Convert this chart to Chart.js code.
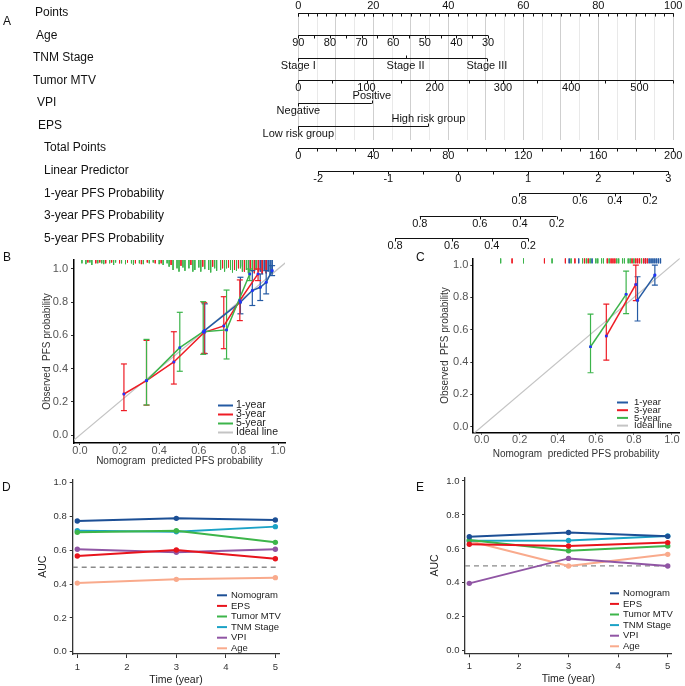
<!DOCTYPE html>
<html>
<head>
<meta charset="utf-8">
<title>Nomogram, calibration and time-dependent AUC</title>
<script src="https://cdn.jsdelivr.net/npm/chart.js@4.4.1/dist/chart.umd.min.js"></script>
<style>
  html, body { margin: 0; padding: 0; background: #fff; }
  #fig { position: relative; width: 685px; height: 686px; overflow: hidden; font-family: "Liberation Sans", Arial, sans-serif; }
  #fig canvas { position: absolute; }
  .tag { position: absolute; font-size: 12px; line-height: 12px; color: #111; }
</style>
</head>
<body>
<div id="fig">
  <canvas id="nomo" width="685" height="250" style="left:0;top:0"></canvas>
  <canvas id="calB" width="300" height="217" style="left:0;top:250px"></canvas>
  <canvas id="calC" width="340" height="210" style="left:345px;top:250px"></canvas>
  <canvas id="aucD" width="300" height="216" style="left:0;top:470px"></canvas>
  <canvas id="aucE" width="340" height="215" style="left:345px;top:470px"></canvas>
  <div class="tag" style="left:3px;top:15px">A</div>
  <div class="tag" style="left:3px;top:251px">B</div>
  <div class="tag" style="left:416px;top:251px">C</div>
  <div class="tag" style="left:2px;top:481px">D</div>
  <div class="tag" style="left:416px;top:481px">E</div>
</div>
<script>
const FONT = '"Liberation Sans", Arial, Helvetica, sans-serif';
Chart.defaults.font.family = FONT;
Chart.defaults.color = '#333';

// ---- A: nomogram rows (in Points units 0-100) ----
const rowNames = ['Points', 'Age', 'TNM Stage', 'Tumor MTV', 'VPI', 'EPS', 'Total Points',
  'Linear Predictor', '1-year PFS Probability', '3-year PFS Probability', '5-year PFS Probability'];
const pointsTicks = [0, 20, 40, 60, 80, 100];
const ageTicks = [90, 80, 70, 60, 50, 40, 30];
const agePoints = [0, 8.43, 16.87, 25.3, 33.73, 42.17, 50.6];
const stageLabels = ['Stage I', 'Stage II', 'Stage III'];
const stagePoints = [0, 28.6, 50.3];
const mtvTicks = [0, 100, 200, 300, 400, 500];
const mtvPoints = [0, 18.2, 36.4, 54.6, 72.8, 91.0];
const mtvEndPoints = 100;
const vpiLabels = ['Negative', 'Positive'];
const vpiPoints = [0, 19.6];
const epsLabels = ['Low risk group', 'High risk group'];
const epsPoints = [0, 34.7];
const totalTicks = [0, 40, 80, 120, 160, 200];
const totalPoints = [0, 20, 40, 60, 80, 100];
const lpTicks = [-2, -1, 0, 1, 2, 3];
const lpPoints = [5.3, 24.0, 42.7, 61.3, 80.0, 98.7];
const pfsTicks = [0.8, 0.6, 0.4, 0.2];
const pfs1Points = [58.9, 75.1, 84.4, 93.8];
const pfs3Points = [32.4, 48.4, 59.1, 68.9];
const pfs5Points = [25.8, 40.9, 51.6, 61.3];

// ---- B: calibration, training set ----
const b1x = [0.63, 0.81, 0.87, 0.91, 0.94, 0.97];
const b1y = [0.63, 0.80, 0.87, 0.89, 0.92, 0.99];
const b1lo = [0.49, 0.73, 0.78, 0.81, 0.85, 0.96];
const b1hi = [0.79, 0.95, 0.99, 0.97, 0.99, 1.02];
const b3x = [0.222, 0.336, 0.474, 0.627, 0.726, 0.807, 0.899];
const b3y = [0.247, 0.327, 0.44, 0.618, 0.657, 0.81, 0.97];
const b3lo = [0.147, 0.18, 0.307, 0.492, 0.52, 0.689, 0.93];
const b3hi = [0.428, 0.57, 0.622, 0.797, 0.833, 0.934, 1.0];
const b5x = [0.336, 0.504, 0.622, 0.74, 0.857];
const b5y = [0.327, 0.526, 0.622, 0.633, 0.97];
const b5lo = [0.181, 0.384, 0.486, 0.458, 0.93];
const b5hi = [0.576, 0.739, 0.803, 0.873, 1.0];
const rugBGreenX = [0.01, 0.03, 0.05, 0.06, 0.09, 0.11, 0.12, 0.15, 0.17, 0.18, 0.21, 0.23, 0.26, 0.27, 0.30,
  0.32, 0.35, 0.37, 0.40, 0.42, 0.44, 0.45, 0.47, 0.49, 0.50, 0.52, 0.53, 0.55, 0.57, 0.58, 0.60, 0.61, 0.63,
  0.65, 0.66, 0.68, 0.69, 0.71, 0.73, 0.74, 0.76, 0.77, 0.79, 0.81, 0.82, 0.84, 0.85, 0.87, 0.89];
const rugBGreenLen = [0.02, 0.025, 0.015, 0.03, 0.02, 0.02, 0.025, 0.02, 0.03, 0.015, 0.02, 0.025, 0.02, 0.03, 0.02,
  0.025, 0.02, 0.015, 0.025, 0.03, 0.02, 0.04, 0.06, 0.05, 0.07, 0.045, 0.065, 0.05, 0.07, 0.06, 0.045, 0.07, 0.055,
  0.06, 0.075, 0.05, 0.065, 0.06, 0.07, 0.05, 0.06, 0.075, 0.065, 0.05, 0.07, 0.06, 0.08, 0.07, 0.06];
const rugBRedX = [0.04, 0.08, 0.10, 0.13, 0.16, 0.20, 0.24, 0.28, 0.31, 0.34, 0.38, 0.41, 0.46, 0.51, 0.56,
  0.62, 0.67, 0.72, 0.75, 0.78, 0.80, 0.83, 0.86, 0.88, 0.90, 0.92, 0.94];
const rugBRedLen = [0.015, 0.02, 0.015, 0.02, 0.015, 0.02, 0.015, 0.02, 0.025, 0.015, 0.02, 0.02, 0.03, 0.035, 0.03,
  0.04, 0.04, 0.05, 0.045, 0.06, 0.05, 0.07, 0.06, 0.08, 0.07, 0.085, 0.08];
const rugBBlueX = [0.82, 0.86, 0.89, 0.91, 0.92, 0.93, 0.94, 0.95, 0.96, 0.97];
const rugBBlueLen = [0.04, 0.05, 0.06, 0.07, 0.08, 0.06, 0.08, 0.07, 0.09, 0.08];

// ---- C: calibration, validation set ----
const c1x = [0.819, 0.91];
const c1y = [0.783, 0.938];
const c1lo = [0.654, 0.876];
const c1hi = [0.928, 1.0];
const c3x = [0.655, 0.81];
const c3y = [0.561, 0.88];
const c3lo = [0.412, 0.78];
const c3hi = [0.759, 1.0];
const c5x = [0.572, 0.759];
const c5y = [0.495, 0.819];
const c5lo = [0.334, 0.70];
const c5hi = [0.697, 0.963];
const rugCGreenX = [0.10, 0.22, 0.37, 0.47, 0.53, 0.55, 0.57, 0.60, 0.61, 0.63, 0.64, 0.67, 0.71, 0.72, 0.74, 0.75, 0.77, 0.78, 0.80, 0.84];
const rugCRedX = [0.16, 0.33, 0.44, 0.49, 0.54, 0.56, 0.66, 0.68, 0.69, 0.70, 0.79, 0.81, 0.82, 0.83, 0.85, 0.86, 0.87];
const rugCBlueX = [0.46, 0.51, 0.58, 0.86, 0.88, 0.89, 0.90, 0.91, 0.92, 0.93, 0.94];
const rugCLen = 0.031;

const probTicks = [0, 0.2, 0.4, 0.6, 0.8, 1.0];
const idealLine = [-0.2, 1.2];

// ---- D / E: time-dependent AUC ----
const years = [1, 3, 5];
const aucNames = ['Nomogram', 'EPS', 'Tumor MTV', 'TNM Stage', 'VPI', 'Age'];
const nomoD = [0.773, 0.789, 0.779];
const epsD = [0.566, 0.602, 0.550];
const mtvD = [0.706, 0.716, 0.647];
const tnmD = [0.716, 0.710, 0.740];
const vpiD = [0.606, 0.588, 0.606];
const ageD = [0.406, 0.428, 0.438];
const nomoE = [0.672, 0.697, 0.674];
const epsE = [0.627, 0.617, 0.637];
const mtvE = [0.652, 0.589, 0.617];
const tnmE = [0.648, 0.650, 0.676];
const vpiE = [0.397, 0.544, 0.499];
const ageE = [0.646, 0.499, 0.568];
const aucTicks = [0, 0.2, 0.4, 0.6, 0.8, 1.0];
const chanceLevel = 0.5;

// colours
const BLUE1 = '#245aa3', RED3 = '#ee1c25', GREEN5 = '#3cb44b', IDEAL = '#c4c4c4', MARK = '#2233ff';
const aucColors = ['#1c4f95', '#e8141c', '#3db54a', '#1ba2c6', '#9055a4', '#f9aa8c'];

// small legend drawn inside a chart
function makeKey(items, o) {
  return {
    id: 'key',
    afterDraw(chart) {
      const ctx = chart.ctx;
      ctx.save();
      ctx.font = o.size + 'px ' + FONT;
      ctx.textBaseline = 'middle';
      ctx.textAlign = 'left';
      items.forEach((it, i) => {
        const yy = o.y + i * o.dy;
        ctx.strokeStyle = it.color;
        ctx.lineWidth = 2;
        ctx.beginPath();
        ctx.moveTo(o.x, yy);
        ctx.lineTo(o.x + o.len, yy);
        ctx.stroke();
        ctx.fillStyle = '#222';
        ctx.fillText(it.label, o.x + o.len + o.gap, yy);
      });
      ctx.restore();
    }
  };
}

// ---------- A ----------
const mid = a => a.slice(1).map((v, i) => (v + a[i]) / 2);
const steps = (a, b, s) => { const out = []; for (let v = a; v <= b + 1e-9; v += s) out.push(v); return out; };
const rowNameX = [35, 36, 33, 33, 37, 38, 44, 44, 44, 44, 44];
const nomoRows = [
  { at: pointsTicks, text: pointsTicks, minor: steps(0, 100, 2.5), side: 'above' },
  { at: agePoints, text: ageTicks, minor: mid(agePoints) },
  { at: stagePoints, text: stageLabels, minor: [], cat: true },
  { at: mtvPoints, text: mtvTicks, minor: mid(mtvPoints).concat([mtvEndPoints]) },
  { at: vpiPoints, text: vpiLabels, minor: [], cat: true, side: ['below', 'above'] },
  { at: epsPoints, text: epsLabels, minor: [], cat: true, side: ['below', 'above'] },
  { at: totalPoints, text: totalTicks, minor: steps(0, 100, 5) },
  { at: lpPoints, text: lpTicks, minor: mid(lpPoints) },
  { at: pfs1Points, text: pfsTicks, minor: [] },
  { at: pfs3Points, text: pfsTicks, minor: [] },
  { at: pfs5Points, text: pfsTicks, minor: [] }
];

const nomogramPlugin = {
  id: 'nomogram',
  afterDraw(chart) {
    const { ctx, scales: { x, y } } = chart;
    ctx.save();
    ctx.fillStyle = '#111';
    ctx.strokeStyle = '#111';
    ctx.lineWidth = 1;
    ctx.textBaseline = 'middle';
    ctx.textAlign = 'left';
    ctx.font = '12px ' + FONT;
    rowNames.forEach((name, i) => ctx.fillText(name, rowNameX[i], y.getPixelForValue(i)));

    ctx.font = '11px ' + FONT;
    ctx.textAlign = 'center';
    nomoRows.forEach((row, i) => {
      const yy = Math.round(y.getPixelForValue(i)) + 0.5;
      const all = row.at.concat(row.minor);
      ctx.beginPath();
      ctx.moveTo(x.getPixelForValue(Math.min(...all)), yy);
      ctx.lineTo(x.getPixelForValue(Math.max(...all)), yy);
      row.minor.forEach(v => {
        const xx = Math.round(x.getPixelForValue(v)) + 0.5;
        ctx.moveTo(xx, yy); ctx.lineTo(xx, yy + 3);
      });
      row.at.forEach((v, j) => {
        const side = Array.isArray(row.side) ? row.side[j] : (row.side || 'below');
        const up = row.cat && (side === 'above' || j === 1);
        const xx = Math.round(x.getPixelForValue(v)) + 0.5;
        ctx.moveTo(xx, yy); ctx.lineTo(xx, up ? yy - 3 : yy + 3);
      });
      ctx.stroke();
      row.text.forEach((t, j) => {
        const side = Array.isArray(row.side) ? row.side[j] : (row.side || 'below');
        ctx.fillText(String(t), x.getPixelForValue(row.at[j]), side === 'above' ? yy - 7.5 : yy + 7.5);
      });
    });
    ctx.restore();
  }
};

new Chart(document.getElementById('nomo'), {
  type: 'scatter',
  data: { datasets: [] },
  options: {
    responsive: false, animation: false, devicePixelRatio: 1,
    layout: { padding: { left: 298.3, right: 11.7, top: 12.7, bottom: 110 } },
    plugins: { legend: { display: false }, tooltip: { enabled: false } },
    scales: {
      x: {
        type: 'linear', position: 'top', min: 0, max: 100,
        ticks: { display: false, stepSize: 5 },
        grid: { drawTicks: false, lineWidth: 1, color: c => (c.tick && c.tick.value % 10 === 0) ? '#cfcfcf' : '#e9e9e9' },
        border: { display: false },
        afterFit: s => { s.height = 0; }
      },
      y: { type: 'linear', display: false, min: 0, max: 5.64, reverse: true }
    }
  },
  plugins: [nomogramPlugin]
});

// ---------- B and C ----------
function calibrationChart(id, series, rugs, lay, key) {
  const datasets = [{
    data: idealLine.map(v => ({ x: v, y: v })),
    borderColor: IDEAL, borderWidth: 1.2, pointRadius: 0, order: 10
  }];
  rugs.forEach(r => {
    const pts = [];
    r.x.forEach((v, i) => {
      const len = Array.isArray(r.len) ? r.len[i] : r.len;
      pts.push({ x: v, y: lay.ymax }, { x: v, y: lay.ymax - len }, { x: v, y: null });
    });
    datasets.push({ data: pts, borderColor: r.color, borderWidth: 1, pointRadius: 0, order: 9 });
  });
  series.forEach(s => {
    const bars = [];
    s.x.forEach((v, i) => bars.push({ x: v, y: s.lo[i] }, { x: v, y: s.hi[i] }, { x: v, y: null }));
    datasets.push({
      data: bars, borderColor: s.color, backgroundColor: s.color, borderWidth: 1.2,
      pointStyle: 'line', pointRadius: 3, pointBorderWidth: 1.2, order: 5
    });
    datasets.push({
      data: s.x.map((v, i) => ({ x: v, y: s.y[i] })),
      borderColor: s.color, backgroundColor: s.color, borderWidth: 1.5,
      pointRadius: 1.5, pointBorderWidth: 0, order: 4
    });
    datasets.push({
      data: s.x.map((v, i) => ({ x: v, y: s.y[i] })), showLine: false,
      pointStyle: 'rect', pointRadius: 1.8, pointBorderWidth: 0, backgroundColor: MARK, order: 1
    });
  });

  return new Chart(document.getElementById(id), {
    type: 'line',
    data: { datasets },
    options: {
      responsive: false, animation: false, devicePixelRatio: 1,
      layout: { padding: lay.pad },
      elements: { line: { tension: 0 } },
      plugins: { legend: { display: false }, tooltip: { enabled: false } },
      scales: {
        x: {
          type: 'linear', min: lay.xmin, max: lay.xmax,
          afterBuildTicks: sc => { sc.ticks = probTicks.map(v => ({ value: v })); },
          ticks: { callback: v => v.toFixed(1), font: { size: 11, lineHeight: 1 }, color: '#555', padding: 0, autoSkip: false, maxRotation: 0 },
          grid: { drawOnChartArea: false, tickLength: 2, tickColor: '#333' },
          border: { color: '#000', width: 1.5 },
          title: { display: true, text: 'Nomogram  predicted PFS probability', font: { size: 10 }, color: '#333', padding: 0 },
          afterFit: sc => { sc.height = lay.xh; }
        },
        y: {
          type: 'linear', min: lay.ymin, max: lay.ymax,
          afterBuildTicks: sc => { sc.ticks = probTicks.map(v => ({ value: v })); },
          ticks: { callback: v => v.toFixed(1), font: { size: 11, lineHeight: 1 }, color: '#555', padding: lay.tp, autoSkip: false },
          grid: { drawOnChartArea: false, tickLength: lay.tl, tickColor: '#333' },
          border: { color: '#000', width: 1.5 },
          title: { display: true, text: 'Observed  PFS probability', font: { size: 10 }, color: '#333', padding: 0 },
          afterFit: sc => { sc.width = lay.yw; }
        }
      }
    },
    plugins: [makeKey(key.items, key)]
  });
}

const calItems = [
  { label: '1-year', color: BLUE1 }, { label: '3-year', color: RED3 },
  { label: '5-year', color: GREEN5 }, { label: 'Ideal line', color: IDEAL }
];

calibrationChart('calB',
  [
    { color: GREEN5, x: b5x, y: b5y, lo: b5lo, hi: b5hi },
    { color: RED3, x: b3x, y: b3y, lo: b3lo, hi: b3hi },
    { color: BLUE1, x: b1x, y: b1y, lo: b1lo, hi: b1hi }
  ],
  [
    { color: GREEN5, x: rugBGreenX, len: rugBGreenLen },
    { color: RED3, x: rugBRedX, len: rugBRedLen },
    { color: BLUE1, x: rugBBlueX, len: rugBBlueLen }
  ],
  { pad: { left: 41, top: 10, right: 15, bottom: 0 }, yw: 33, xh: 24, tl: 3, tp: 3,
    xmin: -0.03, xmax: 1.035, ymin: -0.048, ymax: 1.054 },
  { items: calItems, x: 218, y: 155.5, dy: 9, len: 15, gap: 3, size: 10.5 }
);

calibrationChart('calC',
  [
    { color: GREEN5, x: c5x, y: c5y, lo: c5lo, hi: c5hi },
    { color: RED3, x: c3x, y: c3y, lo: c3lo, hi: c3hi },
    { color: BLUE1, x: c1x, y: c1y, lo: c1lo, hi: c1hi }
  ],
  [
    { color: GREEN5, x: rugCGreenX, len: rugCLen },
    { color: RED3, x: rugCRedX, len: rugCLen },
    { color: BLUE1, x: rugCBlueX, len: rugCLen }
  ],
  { pad: { left: 94, top: 8.3, right: 2, bottom: 0 }, yw: 33.3, xh: 27.3, tl: 2, tp: 2,
    xmin: -0.049, xmax: 1.041, ymin: -0.037, ymax: 1.042 },
  { items: calItems, x: 272, y: 152.5, dy: 7.7, len: 11, gap: 6, size: 9.5 }
);

// ---------- D and E ----------
function aucChart(id, series, lay, key) {
  const datasets = [{
    data: [lay.xmin, lay.xmax].map(v => ({ x: v, y: chanceLevel })),
    borderColor: '#8a8a8a', borderWidth: 1.4, borderDash: [5, 4], pointRadius: 0, order: 10
  }];
  series.forEach((vals, k) => {
    datasets.push({
      data: years.map((t, i) => ({ x: t, y: vals[i] })),
      borderColor: aucColors[k], backgroundColor: aucColors[k], borderWidth: 2,
      pointRadius: 2.7, pointBorderWidth: 0, order: 1 + k
    });
  });
  return new Chart(document.getElementById(id), {
    type: 'line',
    data: { datasets },
    options: {
      responsive: false, animation: false, devicePixelRatio: 1,
      layout: { padding: lay.pad },
      elements: { line: { tension: 0 } },
      plugins: { legend: { display: false }, tooltip: { enabled: false } },
      scales: {
        x: {
          type: 'linear', min: lay.xmin, max: lay.xmax,
          afterBuildTicks: sc => { sc.ticks = [1, 2, 3, 4, 5].map(v => ({ value: v })); },
          ticks: { font: { size: 9.5, lineHeight: 1 }, color: '#333', padding: 4.5, autoSkip: false, maxRotation: 0 },
          grid: { drawOnChartArea: false, tickLength: 4, tickColor: '#333' },
          border: { color: '#333', width: 1.3 },
          title: { display: true, text: 'Time (year)', font: { size: 10.5 }, color: '#222', padding: 0 },
          afterFit: sc => { sc.height = lay.xh; }
        },
        y: {
          type: 'linear', min: lay.ymin, max: lay.ymax,
          afterBuildTicks: sc => { sc.ticks = aucTicks.map(v => ({ value: v })); },
          ticks: { callback: v => v.toFixed(1), font: { size: 9.5, lineHeight: 1 }, color: '#333', padding: lay.tp, autoSkip: false },
          grid: { drawOnChartArea: false, tickLength: 3, tickColor: '#333' },
          border: { color: '#333', width: 1.3 },
          title: { display: true, text: 'AUC', font: { size: 10.5 }, color: '#222', padding: 0 },
          afterFit: sc => { sc.width = lay.yw; }
        }
      }
    },
    plugins: [makeKey(aucNames.map((n, k) => ({ label: n, color: aucColors[k] })), key)]
  });
}

aucChart('aucD', [nomoD, epsD, mtvD, tnmD, vpiD, ageD],
  { pad: { left: 37, top: 9.3, right: 20.7, bottom: 0 }, yw: 35.7, xh: 32, tp: 3,
    xmin: 0.907, xmax: 5.08, ymin: -0.0136, ymax: 1.02 },
  { x: 217, y: 125.3, dy: 10.6, len: 10, gap: 4, size: 9.5 });

aucChart('aucE', [nomoE, epsE, mtvE, tnmE, vpiE, ageE],
  { pad: { left: 83.7, top: 7.6, right: 13.3, bottom: 0 }, yw: 36.3, xh: 31.7, tp: 2.5,
    xmin: 0.913, xmax: 5.08, ymin: -0.015, ymax: 1.02 },
  { x: 265, y: 123.3, dy: 10.6, len: 9, gap: 4, size: 9.5 });
</script>
</body>
</html>
